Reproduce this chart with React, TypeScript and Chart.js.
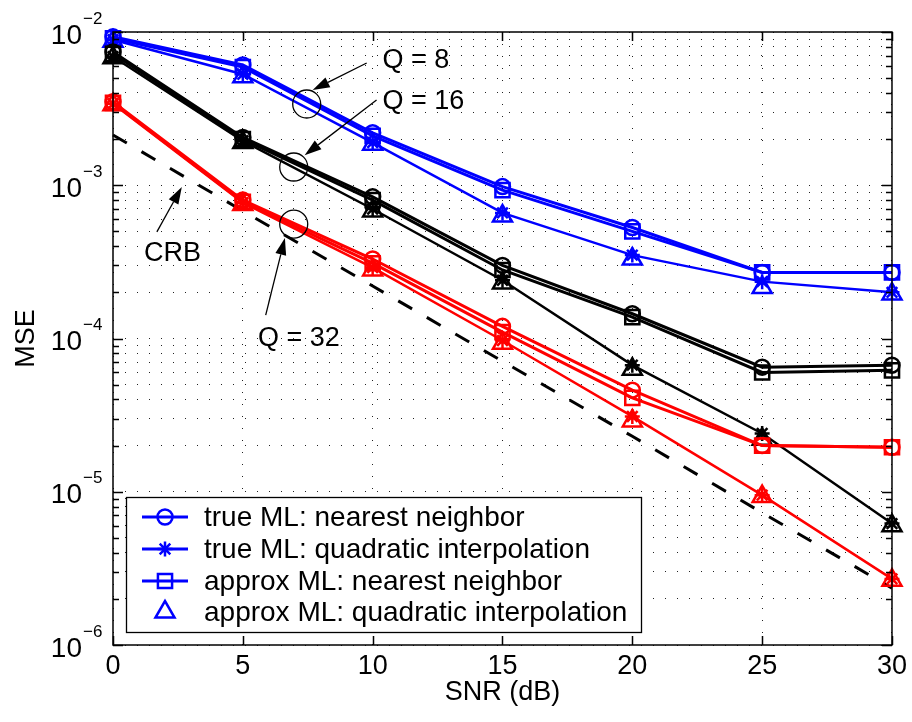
import React, { useEffect, useRef } from 'react';
import { Chart, registerables } from 'chart.js';

Chart.register(...registerables);

// ---------- data ----------
const SNR = [0, 5, 10, 15, 20, 25, 30];
const X_TICKS = [0, 5, 10, 15, 20, 25, 30];
const Y_DECADES = [-6, -5, -4, -3, -2];

// Q = 8 (blue)
const Q8_TRUE_NN = [9.3e-3, 6.1e-3, 2.2e-3, 9.8e-4, 5.3e-4, 2.7e-4, 2.7e-4];
const Q8_TRUE_QI = [8.9e-3, 5.3e-3, 1.9e-3, 6.6e-4, 3.5e-4, 2.35e-4, 2.0e-4];
const Q8_APPROX_NN = [9.1e-3, 5.9e-3, 2.1e-3, 9.3e-4, 5.0e-4, 2.7e-4, 2.7e-4];
const Q8_APPROX_QI = [8.7e-3, 5.1e-3, 1.85e-3, 6.3e-4, 3.3e-4, 2.15e-4, 1.95e-4];

// Q = 16 (black)
const Q16_TRUE_NN = [7.4e-3, 2.05e-3, 8.4e-4, 3.0e-4, 1.45e-4, 6.5e-5, 6.7e-5];
const Q16_TRUE_QI = [6.9e-3, 1.95e-3, 7.0e-4, 2.4e-4, 6.7e-5, 2.4e-5, 6.2e-6];
const Q16_APPROX_NN = [7.2e-3, 2.0e-3, 8.0e-4, 2.8e-4, 1.38e-4, 6.0e-5, 6.2e-5];
const Q16_APPROX_QI = [6.8e-3, 1.9e-3, 6.8e-4, 2.3e-4, 6.3e-5, 2.2e-5, 6.0e-6];

// Q = 32 (red)
const Q32_TRUE_NN = [3.5e-3, 8.0e-4, 3.3e-4, 1.2e-4, 4.6e-5, 2.0e-5, 1.95e-5];
const Q32_TRUE_QI = [3.4e-3, 7.7e-4, 2.9e-4, 9.7e-5, 3.1e-5, 9.5e-6, 2.7e-6];
const Q32_APPROX_NN = [3.45e-3, 7.8e-4, 3.1e-4, 1.1e-4, 4.1e-5, 2.0e-5, 1.95e-5];
const Q32_APPROX_QI = [3.35e-3, 7.5e-4, 2.8e-4, 9.3e-5, 2.9e-5, 9.3e-6, 2.65e-6];

// Cramer-Rao bound
const CRB = [2.13e-3, 6.8e-4, 2.2e-4, 7.1e-5, 2.3e-5, 7.3e-6, 2.35e-6];

const LEGEND_LABELS = [
  'true ML: nearest neighbor',
  'true ML: quadratic interpolation',
  'approx ML: nearest neighbor',
  'approx ML: quadratic interpolation',
];

// annotations in data coordinates
const ANNOT_CIRCLES = [
  { x: 7.46, y: 3.39e-3 },
  { x: 6.96, y: 1.315e-3 },
  { x: 6.96, y: 5.58e-4 },
];
const ANNOT_ARROWS = [
  { x0: 9.77, y0: 6.28e-3, x1: 7.69, y1: 4.19e-3 },
  { x0: 10.15, y0: 3.6e-3, x1: 7.38, y1: 1.57e-3 },
  { x0: 5.88, y0: 1.42e-4, x1: 6.62, y1: 4.53e-4 },
  { x0: 1.69, y0: 4.96e-4, x1: 2.65, y1: 9.75e-4 },
];
const ANNOT_TEXTS = [
  { x: 10.38, y: 6.56e-3, text: 'Q = 8' },
  { x: 10.38, y: 3.5e-3, text: 'Q = 16' },
  { x: 1.19, y: 3.61e-4, text: 'CRB' },
  { x: 5.58, y: 1.0e-4, text: 'Q = 32' },
];

const FONT = '"Liberation Sans", Arial, Helvetica, sans-serif';
const BLUE = '#0000ff';
const BLACK = '#000000';
const RED = '#ff0000';

type Kind = 'circle' | 'star' | 'rect' | 'triangle';
const RADIUS: Record<Kind, number> = { circle: 7.5, rect: 10, triangle: 11, star: 7.5 };

function series(values: number[], color: string, kind: Kind, showLine: boolean, lineWidth: number) {
  return {
    data: SNR.map((x, i) => ({ x, y: values[i] })),
    borderColor: color,
    backgroundColor: color,
    borderWidth: lineWidth,
    showLine,
    pointStyle: kind,
    pointRadius: RADIUS[kind],
    pointBorderWidth: 2.5,
    pointBorderColor: color,
    pointBackgroundColor: 'rgba(0,0,0,0)',
    clip: false as any,
    tension: 0,
  };
}

function drawMarker(ctx: CanvasRenderingContext2D, kind: Kind, x: number, y: number, color: string) {
  ctx.save();
  ctx.strokeStyle = color;
  ctx.lineWidth = 2.5;
  ctx.setLineDash([]);
  ctx.beginPath();
  const r = RADIUS[kind];
  if (kind === 'circle') {
    ctx.arc(x, y, r, 0, Math.PI * 2);
  } else if (kind === 'rect') {
    const s = r * Math.SQRT1_2;
    ctx.rect(x - s, y - s, 2 * s, 2 * s);
  } else if (kind === 'triangle') {
    ctx.moveTo(x - Math.sin(Math.PI / 3) * r, y + 0.5 * r);
    ctx.lineTo(x + Math.sin(Math.PI / 3) * r, y + 0.5 * r);
    ctx.lineTo(x, y - r);
    ctx.closePath();
  } else {
    for (let k = 0; k < 4; k++) {
      const a = (k * Math.PI) / 4;
      ctx.moveTo(x - Math.cos(a) * r, y - Math.sin(a) * r);
      ctx.lineTo(x + Math.cos(a) * r, y + Math.sin(a) * r);
    }
  }
  ctx.stroke();
  ctx.restore();
}

const decorPlugin = {
  id: 'matlabDecor',
  afterDatasetsDraw(chart: any) {
    const { ctx, chartArea: a, scales } = chart;
    const xs = scales.x;
    const ys = scales.y;
    const px = (v: number) => xs.getPixelForValue(v);
    const py = (v: number) => ys.getPixelForValue(v);
    ctx.save();
    ctx.setLineDash([]);
    ctx.strokeStyle = '#000';
    ctx.lineWidth = 1.5;

    // tick marks (inside, both sides)
    ctx.beginPath();
    for (const t of X_TICKS) {
      const x = Math.round(px(t)) + 0.5;
      ctx.moveTo(x, a.bottom);
      ctx.lineTo(x, a.bottom - 9);
      ctx.moveTo(x, a.top);
      ctx.lineTo(x, a.top + 9);
    }
    for (let e = -6; e <= -2; e++) {
      for (let m = 1; m <= 9; m++) {
        if (e === -2 && m > 1) break;
        const v = m * Math.pow(10, e);
        const y = Math.round(py(v)) + 0.5;
        const len = m === 1 ? 10 : 6;
        ctx.moveTo(a.left, y);
        ctx.lineTo(a.left + len, y);
        ctx.moveTo(a.right, y);
        ctx.lineTo(a.right - len, y);
      }
    }
    ctx.stroke();

    // box
    ctx.lineWidth = 1.5;
    ctx.strokeRect(a.left, a.top, a.right - a.left, a.bottom - a.top);

    // y tick labels 10^e
    ctx.fillStyle = '#000';
    for (const e of Y_DECADES) {
      const y = py(Math.pow(10, e));
      ctx.font = `28px ${FONT}`;
      ctx.textAlign = 'right';
      ctx.textBaseline = 'middle';
      ctx.fillText('10', a.left - 31, y + 4);
      ctx.font = `17px ${FONT}`;
      ctx.textAlign = 'left';
      ctx.fillText('\u2212' + Math.abs(e), a.left - 30, y - 13);
    }

    // axis titles
    ctx.font = `27px ${FONT}`;
    ctx.textAlign = 'center';
    ctx.textBaseline = 'middle';
    ctx.fillText('SNR (dB)', (a.left + a.right) / 2, 693);
    ctx.save();
    ctx.translate(27, (a.top + a.bottom) / 2);
    ctx.rotate(-Math.PI / 2);
    ctx.fillText('MSE', 0, 0);
    ctx.restore();

    // annotation circles
    ctx.lineWidth = 1.3;
    for (const c of ANNOT_CIRCLES) {
      ctx.beginPath();
      ctx.arc(px(c.x), py(c.y), 14, 0, Math.PI * 2);
      ctx.stroke();
    }
    // arrows
    for (const ar of ANNOT_ARROWS) {
      const x0 = px(ar.x0), y0 = py(ar.y0), x1 = px(ar.x1), y1 = py(ar.y1);
      const ang = Math.atan2(y1 - y0, x1 - x0);
      const hl = 17, hw = 5.5;
      const bx = x1 - Math.cos(ang) * hl, by = y1 - Math.sin(ang) * hl;
      ctx.lineWidth = 1.3;
      ctx.beginPath();
      ctx.moveTo(x0, y0);
      ctx.lineTo(bx, by);
      ctx.stroke();
      ctx.beginPath();
      ctx.moveTo(x1, y1);
      ctx.lineTo(bx + Math.sin(ang) * hw, by - Math.cos(ang) * hw);
      ctx.lineTo(bx - Math.sin(ang) * hw, by + Math.cos(ang) * hw);
      ctx.closePath();
      ctx.fill();
    }
    // annotation text
    ctx.font = `27px ${FONT}`;
    ctx.textAlign = 'left';
    ctx.textBaseline = 'middle';
    for (const t of ANNOT_TEXTS) {
      ctx.fillText(t.text, px(t.x), py(t.y));
    }

    // legend
    const lx = 126, ly = 497, lw = 515, lh = 135;
    ctx.fillStyle = '#fff';
    ctx.fillRect(lx, ly, lw, lh);
    ctx.lineWidth = 1.3;
    ctx.strokeStyle = '#000';
    ctx.strokeRect(lx + 0.5, ly + 0.5, lw, lh);
    const kinds: Kind[] = ['circle', 'star', 'rect', 'triangle'];
    const rowY = [517, 549, 581, 612];
    for (let i = 0; i < 4; i++) {
      const y = rowY[i];
      if (i < 3) {
        ctx.strokeStyle = BLUE;
        ctx.lineWidth = 3;
        ctx.beginPath();
        ctx.moveTo(142, y);
        ctx.lineTo(188, y);
        ctx.stroke();
      }
      drawMarker(ctx, kinds[i], 165, y, BLUE);
      ctx.fillStyle = '#000';
      ctx.font = `28px ${FONT}`;
      ctx.textAlign = 'left';
      ctx.textBaseline = 'middle';
      ctx.fillText(LEGEND_LABELS[i], 204, y + 1);
    }
    ctx.restore();
  },
};

export default function App() {
  const ref = useRef<HTMLCanvasElement>(null);
  useEffect(() => {
    const canvas = ref.current;
    if (!canvas) return;
    const groups: [string, number[][]][] = [
      [BLUE, [Q8_TRUE_NN, Q8_TRUE_QI, Q8_APPROX_NN, Q8_APPROX_QI]],
      [BLACK, [Q16_TRUE_NN, Q16_TRUE_QI, Q16_APPROX_NN, Q16_APPROX_QI]],
      [RED, [Q32_TRUE_NN, Q32_TRUE_QI, Q32_APPROX_NN, Q32_APPROX_QI]],
    ];
    const drawList: any[] = [];
    drawList.push({
      data: SNR.map((x, i) => ({ x, y: CRB[i] })),
      borderColor: BLACK,
      borderWidth: 3,
      borderDash: [16, 17],
      pointRadius: 0,
      showLine: true,
      clip: false,
    });
    for (const [color, arrs] of groups) {
      drawList.push(series(arrs[0], color, 'circle', true, 3));
      drawList.push(series(arrs[1], color, 'star', true, 2.5));
      drawList.push(series(arrs[2], color, 'rect', true, 3));
      drawList.push(series(arrs[3], color, 'triangle', false, 2.5));
    }
    const n = drawList.length;
    drawList.forEach((d, i) => (d.order = n - i));

    const chart = new Chart(canvas, {
      type: 'scatter',
      data: { datasets: drawList },
      options: {
        animation: false,
        responsive: false,
        events: [],
        layout: { padding: { top: 32, right: 20, left: 0, bottom: 0 } },
        plugins: { legend: { display: false }, tooltip: { enabled: false } },
        scales: {
          x: {
            type: 'linear',
            min: 0,
            max: 30,
            afterBuildTicks: (s: any) => {
              s.ticks = X_TICKS.map((v) => ({ value: v }));
            },
            afterFit: (s: any) => {
              s.height = 77;
            },
            ticks: { font: { family: FONT, size: 27 }, color: '#000', padding: 5, maxRotation: 0 },
            grid: { color: '#222', lineWidth: 1, drawTicks: false },
            border: { display: false, dash: [1, 11] },
          },
          y: {
            type: 'logarithmic',
            min: 1e-6,
            max: 1e-2,
            afterBuildTicks: (s: any) => {
              const t: any[] = [];
              for (let e = -6; e <= -2; e++) {
                for (let m = 1; m <= 9; m++) {
                  if (e === -2 && m > 1) break;
                  t.push({ value: m * Math.pow(10, e) });
                }
              }
              s.ticks = t;
            },
            afterFit: (s: any) => {
              s.width = 113;
            },
            ticks: { display: false },
            grid: { color: '#222', lineWidth: 1, drawTicks: false },
            border: { display: false, dash: [1, 11] },
          },
        },
      },
      plugins: [decorPlugin],
    } as any);
    return () => chart.destroy();
  }, []);
  return (
    <div style={{ position: 'absolute', left: 0, top: 0, width: 912, height: 722, background: '#fff' }}>
      <canvas ref={ref} width={912} height={722} style={{ display: 'block' }} />
    </div>
  );
}
